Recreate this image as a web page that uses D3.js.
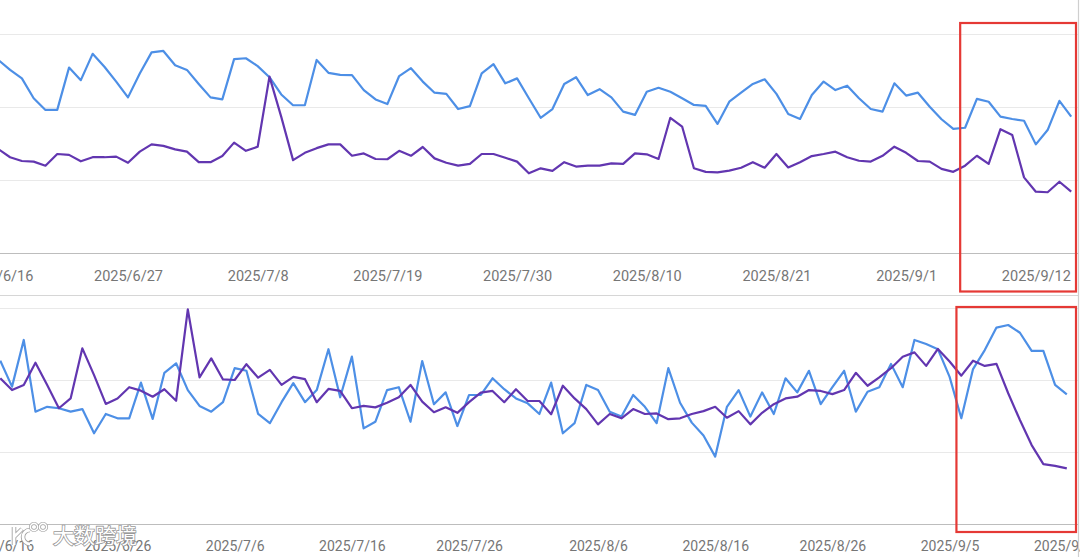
<!DOCTYPE html>
<html lang="zh">
<head>
  <meta charset="UTF-8">
  <script src="https://d3js.org/d3.v7.min.js" charset="utf-8"></script>
  <title>Trend</title>
  <style>
    body { margin: 0; background: #fff; overflow: hidden; }
  </style>
</head>
<body>
<script type="text/javascript">

  const w = 1080;
  const h = 557;

  // one point per day, first day below
  var startDay = "2025/6/16";

  var topBlue = [66.1, 62.7, 59.8, 53.0, 49.0, 49.0, 63.5, 59.2, 68.2, 63.8,
    58.7, 53.3, 61.5, 68.7, 69.2, 64.3, 62.7, 57.9, 53.3, 52.6,
    66.4, 66.7, 64.0, 60.2, 54.3, 50.6, 50.6, 66.1, 61.7, 61.0,
    60.9, 55.8, 52.6, 51.0, 60.6, 63.3, 58.7, 54.9, 54.5, 49.3,
    50.3, 61.5, 64.7, 58.1, 59.8, 53.0, 46.3, 49.3, 57.9, 60.2,
    54.1, 56.1, 53.3, 48.4, 47.3, 55.2, 56.6, 55.2, 53.0, 50.7,
    50.4, 44.2, 51.8, 54.9, 57.9, 59.5, 54.5, 47.6, 45.9, 54.1,
    58.7, 55.8, 57.3, 53.0, 49.3, 48.4, 58.1, 53.9, 54.9, 50.1,
    45.8, 42.5, 42.9, 52.8, 51.8, 46.7, 45.9, 45.3, 37.2, 42.1,
    52.1, 46.7];

  var topPurple = [35.6, 32.8, 31.5, 31.3, 29.9, 33.9, 33.6, 31.4, 32.8, 32.8,
    33.0, 30.9, 34.7, 37.2, 36.7, 35.5, 34.7, 31.1, 31.1, 33.2,
    37.8, 35.0, 36.4, 60.4, 46.6, 31.8, 34.3, 35.9, 37.2, 37.2,
    33.3, 34.1, 32.2, 32.1, 35.0, 33.3, 36.3, 32.4, 30.9, 29.9,
    30.5, 33.9, 33.9, 32.6, 31.3, 27.3, 29.0, 28.1, 31.1, 29.6,
    29.9, 29.9, 30.7, 30.5, 34.1, 33.8, 32.2, 46.3, 43.3, 29.0,
    27.8, 27.6, 28.2, 29.2, 31.1, 29.2, 33.9, 29.3, 31.1, 33.2,
    33.9, 34.7, 32.8, 31.6, 31.3, 33.3, 36.4, 34.3, 31.5, 31.3,
    28.8, 27.8, 29.9, 33.3, 30.5, 42.4, 40.4, 25.9, 21.0, 20.8,
    24.4, 21.0];

  var bottomBlue = [56.7, 47.7, 63.9, 39.0, 40.7, 40.2, 39.0, 39.9, 31.5, 38.2,
    36.7, 36.7, 49.1, 36.5, 52.5, 55.8, 46.5, 41.0, 39.0, 42.3,
    54.1, 53.2, 38.2, 35.0, 42.3, 48.9, 42.3, 46.5, 60.7, 44.0,
    58.1, 33.2, 35.5, 46.5, 47.5, 35.5, 56.6, 41.6, 45.7, 34.0,
    44.8, 44.8, 50.6, 46.8, 43.6, 41.9, 38.2, 49.1, 31.5, 35.0,
    48.3, 46.5, 39.0, 37.3, 44.8, 40.7, 35.0, 54.1, 42.1, 35.2,
    30.7, 23.4, 40.7, 46.5, 37.3, 45.7, 38.2, 50.6, 45.7, 53.2,
    41.6, 47.5, 53.2, 39.0, 45.9, 47.5, 55.6, 47.5, 63.9, 62.5,
    60.7, 51.1, 36.7, 53.8, 60.4, 68.2, 69.1, 66.4, 60.1, 60.1,
    48.3, 45.0];

  var bottomPurple = [50.6, 46.5, 48.3, 56.0, 48.3, 40.2, 43.6, 61.0, 51.7, 41.7,
    43.6, 47.5, 46.3, 44.2, 46.8, 42.8, 74.5, 50.9, 57.5, 50.2,
    50.0, 55.5, 50.8, 53.5, 48.3, 51.1, 50.3, 42.3, 46.9, 46.2,
    40.2, 41.0, 40.5, 42.1, 44.0, 48.3, 42.5, 38.8, 40.5, 38.6,
    42.3, 45.6, 46.2, 42.3, 46.8, 42.7, 42.7, 38.1, 48.0, 43.6,
    39.9, 34.6, 38.2, 36.7, 39.9, 38.2, 38.4, 36.4, 36.7, 38.2,
    39.2, 40.7, 36.9, 39.2, 34.6, 38.6, 41.6, 43.6, 44.2, 46.5,
    46.2, 45.1, 46.5, 52.5, 48.0, 50.9, 54.1, 58.1, 59.6, 54.9,
    60.8, 56.4, 51.5, 56.7, 54.9, 55.6, 45.4, 36.1, 27.4, 20.8,
    20.2, 19.3];

  var topTicks = ["2025/6/16", "2025/6/27", "2025/7/8", "2025/7/19", "2025/7/30",
    "2025/8/10", "2025/8/21", "2025/9/1", "2025/9/12"];
  var bottomTicks = ["2025/6/16", "2025/6/26", "2025/7/6", "2025/7/16", "2025/7/26",
    "2025/8/6", "2025/8/16", "2025/8/26", "2025/9/5", "2025/9/15"];
  var gridValues = [25, 50, 75];

  var blueColor = "#4d8fe6";
  var purpleColor = "#6236b0";
  var redColor = "#e53935";

  var parseDay = d3.timeParse("%Y/%-m/%-d");
  var fmtDay = d3.timeFormat("%Y/%-m/%-d");

  var day0 = parseDay(startDay);
  var dates = topBlue.map(function (d, i) {
    return d3.timeDay.offset(day0, i);
  });
  var lastDay = dates[dates.length - 1];

  // the highlighted last days (red boxes)
  var boxStart = new Date(2025, 8, 5, 14);

  var svg = d3.select("body")
    .append("svg")
    .attr("width", w)
    .attr("height", h);

  function drawPanel(opt) {
    var x = d3.scaleTime()
      .domain([day0, lastDay])
      .range(opt.xRange);

    var y = d3.scaleLinear()
      .domain([0, 75])
      .range([opt.bottom, opt.top]);

    var g = svg.append("g");

    // grid lines
    g.selectAll("line.grid")
      .data(gridValues)
      .enter()
      .append("line")
      .attr("class", "grid")
      .attr("x1", 0)
      .attr("x2", 1078)
      .attr("y1", function (d) { return Math.round(y(d)) + 0.5; })
      .attr("y2", function (d) { return Math.round(y(d)) + 0.5; })
      .attr("stroke", "#e9e9e9")
      .attr("stroke-width", 1);

    // x axis along the bottom
    var xAxis = d3.axisBottom(x)
      .tickValues(opt.ticks.map(parseDay))
      .tickFormat(fmtDay)
      .tickSize(0)
      .tickPadding(opt.pad);

    var ax = g.append("g")
      .attr("transform", "translate(0," + Math.round(y(0)) + ")")
      .call(xAxis);
    ax.select(".domain").remove();
    ax.append("line")
      .attr("x1", 0)
      .attr("x2", 1078)
      .attr("y1", 0.5)
      .attr("y2", 0.5)
      .attr("stroke", "#bdbdbd")
      .attr("stroke-width", 1.2);
    ax.selectAll("text")
      .attr("fill", "#767676")
      .attr("font-family", "Roboto, sans-serif")
      .attr("font-size", opt.fontSize);

    var line = d3.line()
      .x(function (d, i) { return x(dates[i]); })
      .y(function (d) { return y(d); });

    opt.series.forEach(function (s) {
      g.append("path")
        .datum(s.values)
        .attr("d", line)
        .attr("fill", "none")
        .attr("stroke", s.color)
        .attr("stroke-width", 2.2)
        .attr("stroke-linejoin", "round");
    });

    // red box around the last days
    var bx = x(boxStart);
    g.append("rect")
      .attr("x", bx)
      .attr("y", opt.boxTop)
      .attr("width", 1076 - bx)
      .attr("height", opt.boxBottom - opt.boxTop)
      .attr("fill", "none")
      .attr("stroke", redColor)
      .attr("stroke-width", 2.2);
  }

  drawPanel({
    xRange: [-1.7, 1071.2],
    top: 34, bottom: 253,
    ticks: topTicks, pad: 18, fontSize: "14.5px",
    boxTop: 23, boxBottom: 291.5,
    series: [{ values: topBlue, color: blueColor }, { values: topPurple, color: purpleColor }]
  });

  // separator between the two cards
  svg.append("line")
    .attr("x1", 0).attr("x2", 1078)
    .attr("y1", 295.5).attr("y2", 295.5)
    .attr("stroke", "#d6d6d6")
    .attr("stroke-width", 1.2);

  drawPanel({
    xRange: [0.3, 1066.8],
    top: 308, bottom: 524,
    ticks: bottomTicks, pad: 17, fontSize: "14px",
    boxTop: 307, boxBottom: 532,
    series: [{ values: bottomBlue, color: blueColor }, { values: bottomPurple, color: purpleColor }]
  });

  // right border of the card
  svg.append("line")
    .attr("x1", 1078.5).attr("x2", 1078.5)
    .attr("y1", 0).attr("y2", h)
    .attr("stroke", "#cfcfcf")
    .attr("stroke-width", 1.2);

  // watermark
  var wm = svg.append("g");
  var logo = "M14,527 L14,545 M14,537 L22,529 M30,530 A7,7 0 1,0 30,544";
  wm.append("path")
    .attr("d", logo)
    .attr("fill", "none")
    .attr("stroke", "#a0a0a0")
    .attr("stroke-width", 4.5);
  wm.append("path")
    .attr("d", logo)
    .attr("fill", "none")
    .attr("stroke", "#fff")
    .attr("stroke-width", 2.8);
  [[34, 527], [43, 527]].forEach(function (c) {
    wm.append("circle")
      .attr("cx", c[0]).attr("cy", c[1]).attr("r", 3.6)
      .attr("fill", "none")
      .attr("stroke", "#a0a0a0")
      .attr("stroke-width", 3);
    wm.append("circle")
      .attr("cx", c[0]).attr("cy", c[1]).attr("r", 3.6)
      .attr("fill", "none")
      .attr("stroke", "#fff")
      .attr("stroke-width", 1.6);
  });
  wm.append("text")
    .attr("x", 53)
    .attr("y", 543)
    .attr("font-family", "'Noto Sans CJK SC', sans-serif")
    .attr("font-size", "21px")
    .attr("fill", "#fff")
    .attr("stroke", "#9a9a9a")
    .attr("stroke-width", 1.6)
    .attr("paint-order", "stroke")
    .text("大数跨境");

</script>
</body>
</html>
